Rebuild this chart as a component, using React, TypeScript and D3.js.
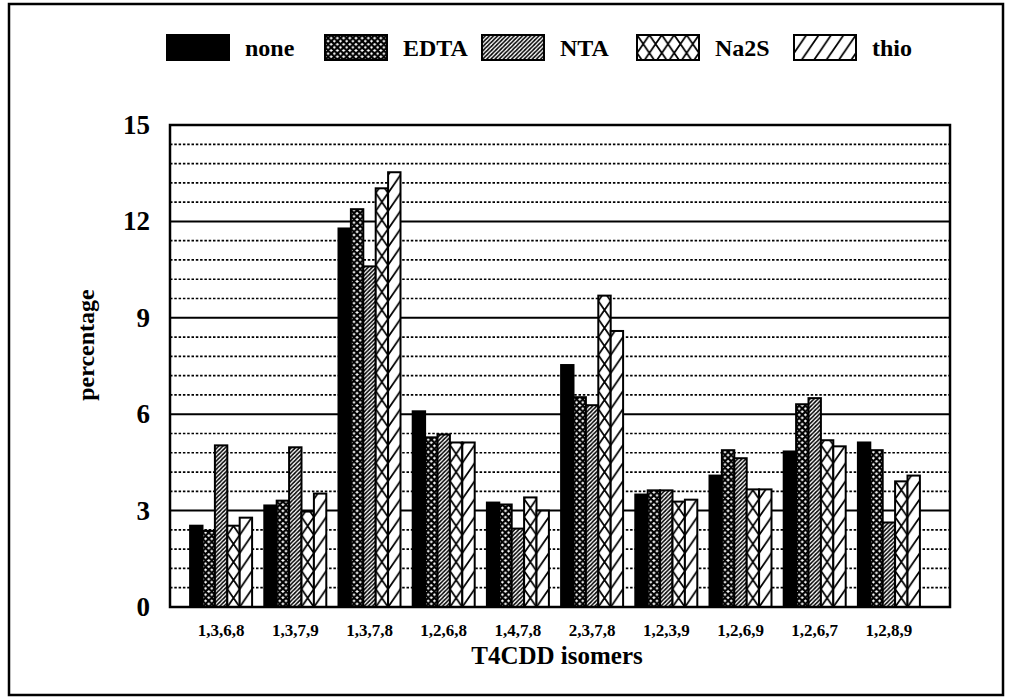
import React from "react";
import * as d3 from "d3";

const categories = ["1,3,6,8", "1,3,7,9", "1,3,7,8", "1,2,6,8", "1,4,7,8", "2,3,7,8", "1,2,3,9", "1,2,6,9", "1,2,6,7", "1,2,8,9"];
const seriesNames = ["none", "EDTA", "NTA", "Na2S", "thio"];
const noneValues = [2.53, 3.16, 11.78, 6.09, 3.25, 7.53, 3.5, 4.09, 4.84, 5.12];
const edtaValues = [2.37, 3.31, 12.38, 5.28, 3.19, 6.53, 3.63, 4.88, 6.31, 4.88];
const ntaValues = [5.03, 4.97, 10.6, 5.37, 2.44, 6.28, 3.63, 4.63, 6.5, 2.63];
const na2sValues = [2.53, 2.97, 13.03, 5.12, 3.41, 9.69, 3.28, 3.66, 5.19, 3.91];
const thioValues = [2.78, 3.53, 13.53, 5.12, 3.0, 8.59, 3.34, 3.66, 5.0, 4.09];
const yTicks = [0, 3, 6, 9, 12, 15];
const yAxisTitle = "percentage";
const xAxisTitle = "T4CDD isomers";

const W = 1015;
const H = 697;
const FONT = "'Liberation Serif', 'Times New Roman', serif";

const plot = { left: 170, right: 950, top: 125, bottom: 607 };

export default function App() {
  const allSeries = [noneValues, edtaValues, ntaValues, na2sValues, thioValues];
  const y = d3.scaleLinear().domain([0, 15]).range([plot.bottom, plot.top]);
  const x0 = d3.scaleBand<string>().domain(categories).range([184, 926]).padding(0);
  const x1 = d3
    .scaleBand<string>()
    .domain(seriesNames)
    .range([6.1, x0.bandwidth() - 6.1])
    .padding(0);
  const bw = x1.bandwidth();

  const minorTicks = d3.range(0, 15.001, 0.6).filter((v) => Math.abs(v / 3 - Math.round(v / 3)) > 0.01);
  const majorTicks = yTicks.filter((v) => v > 0 && v < 15);

  const patternDef = (s: number, id: string, px: number, py: number) => {
    if (s === 1) {
      const t = bw / 2;
      return (
        <pattern key={id} id={id} patternUnits="userSpaceOnUse" x={px} y={py} width={t} height={t}>
          <rect width={t} height={t} fill="white" />
          <path d={`M0,0L${t},${t}M${t},0L0,${t}M${-1},${1}L1,-1M${t - 1},${t + 1}L${t + 1},${t - 1}`} stroke="black" strokeWidth={2.2} />
        </pattern>
      );
    }
    if (s === 2) {
      const t = bw / 3;
      return (
        <pattern key={id} id={id} patternUnits="userSpaceOnUse" x={px} y={py} width={t} height={t}>
          <rect width={t} height={t} fill="white" />
          <path d={`M0,${t}L${t},0M${-t / 2},${t / 2}L${t / 2},${-t / 2}M${t / 2},${t * 1.5}L${t * 1.5},${t / 2}`} stroke="black" strokeWidth={1.6} />
        </pattern>
      );
    }
    if (s === 3) {
      const tw = bw;
      const th = 18;
      return (
        <pattern key={id} id={id} patternUnits="userSpaceOnUse" x={px} y={py} width={tw} height={th}>
          <rect width={tw} height={th} fill="white" />
          <path d={`M0,0L${tw},${th}M${tw},0L0,${th}`} stroke="black" strokeWidth={1.8} />
        </pattern>
      );
    }
    if (s === 4) {
      const tw = bw;
      const th = 18;
      return (
        <pattern key={id} id={id} patternUnits="userSpaceOnUse" x={px} y={py} width={tw} height={th}>
          <rect width={tw} height={th} fill="white" />
          <path d={`M0,${th}L${tw},0M${-tw},${th}L${tw},${-th}M0,${2 * th}L${2 * tw},0`} stroke="black" strokeWidth={1.8} />
        </pattern>
      );
    }
    return null;
  };

  const defs: React.ReactNode[] = [];
  const bars: React.ReactNode[] = [];
  categories.forEach((c, ci) => {
    seriesNames.forEach((s, si) => {
      const v = allSeries[si][ci];
      const bx = (x0(c) as number) + (x1(s) as number);
      const by = y(v);
      const id = `pat-${si}-${ci}`;
      let fill = "black";
      if (si > 0) {
        defs.push(patternDef(si, id, bx, plot.bottom));
        fill = `url(#${id})`;
      }
      bars.push(
        <rect key={`${ci}-${si}`} x={bx} y={by} width={bw} height={plot.bottom - by} fill={fill} stroke="black" strokeWidth={2} />
      );
    });
  });

  const legendBoxX = [167, 325, 482, 637, 794];
  const legendY = 35;
  const legendBoxW = 62;
  const legendBoxH = 25;
  const legend = seriesNames.map((s, si) => {
    const lx = legendBoxX[si];
    const id = `leg-${si}`;
    if (si > 0) {
      defs.push(patternDef(si, id, lx, legendY));
    }
    return (
      <g key={s}>
        <rect x={lx} y={legendY} width={legendBoxW} height={legendBoxH} fill={si === 0 ? "black" : `url(#${id})`} stroke="black" strokeWidth={2} />
        <text x={lx + legendBoxW + 16} y={legendY + 21} fontFamily={FONT} fontWeight="bold" fontSize={24} fill="black">
          {s}
        </text>
      </g>
    );
  });

  return (
    <div style={{ position: "absolute", left: 0, top: 0 }}>
      <svg width={W} height={H} viewBox={`0 0 ${W} ${H}`} style={{ display: "block", background: "white" }}>
        <defs>{defs}</defs>
        <rect x={0} y={0} width={W} height={H} fill="white" />
        <rect x={9} y={4} width={994} height={691} fill="none" stroke="black" strokeWidth={2.5} />
        {legend}
        {minorTicks.map((t) => (
          <line key={`mn${t}`} x1={plot.left} x2={plot.right} y1={y(t)} y2={y(t)} stroke="black" strokeWidth={1.7} strokeDasharray="2.5,1.8" />
        ))}
        {majorTicks.map((t) => (
          <line key={`mj${t}`} x1={plot.left} x2={plot.right} y1={y(t)} y2={y(t)} stroke="black" strokeWidth={2} />
        ))}
        {bars}
        <rect x={plot.left} y={plot.top} width={plot.right - plot.left} height={plot.bottom - plot.top} fill="none" stroke="black" strokeWidth={2.5} />
        {yTicks.map((t) => (
          <text key={`yt${t}`} x={plot.left - 20} y={y(t) + 9} textAnchor="end" fontFamily={FONT} fontWeight="bold" fontSize={27} fill="black">
            {t}
          </text>
        ))}
        {categories.map((c) => (
          <text key={`xt${c}`} x={(x0(c) as number) + x0.bandwidth() / 2} y={636} textAnchor="middle" fontFamily={FONT} fontWeight="bold" fontSize={17} fill="black">
            {c}
          </text>
        ))}
        <text x={557} y={664} textAnchor="middle" fontFamily={FONT} fontWeight="bold" fontSize={25} fill="black">
          {xAxisTitle}
        </text>
        <text transform={`translate(94,345) rotate(-90)`} textAnchor="middle" fontFamily={FONT} fontWeight="bold" fontSize={24} fill="black">
          {yAxisTitle}
        </text>
      </svg>
    </div>
  );
}
